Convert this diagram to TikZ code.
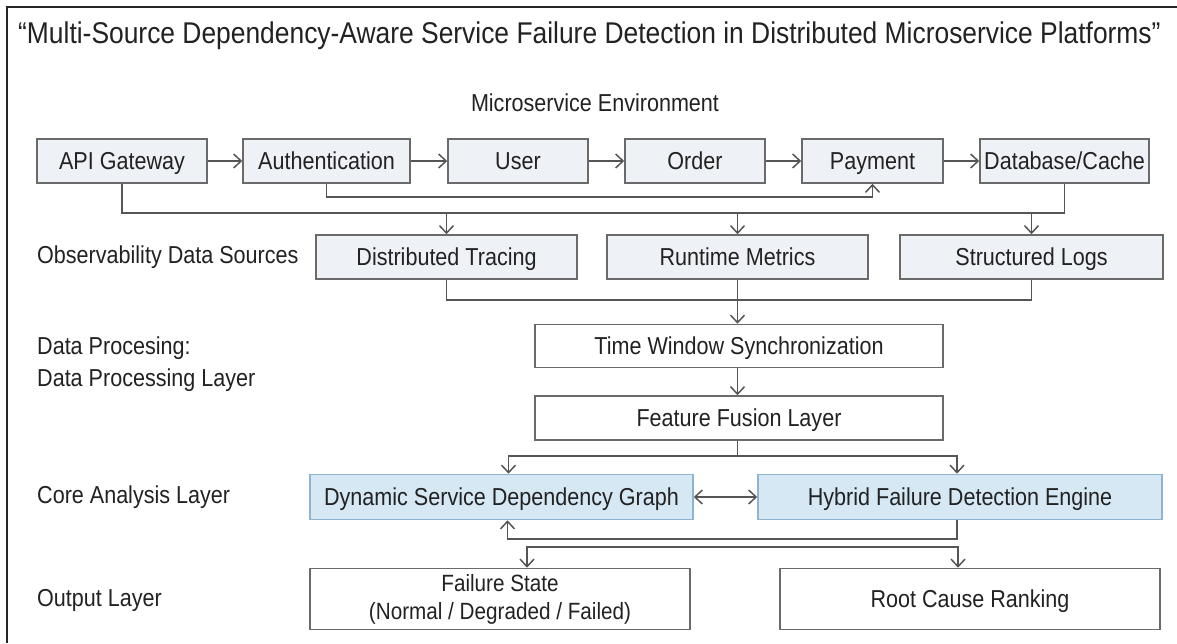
\documentclass[tikz,border=0pt]{standalone}
\usepackage{fontspec}
\setmainfont[FakeStretch=0.88]{Liberation Sans}
\usetikzlibrary{arrows.meta}
\definecolor{linec}{HTML}{555555}
\definecolor{boxline}{HTML}{6A6A6A}
\definecolor{grayfill}{HTML}{EEF1F5}
\definecolor{bluefill}{HTML}{D5E8F4}
\definecolor{blueline}{HTML}{8DB3CF}
\definecolor{textc}{HTML}{222222}
\begin{document}
\begin{tikzpicture}[x=1pt,y=-1pt,
 box/.style={draw=boxline, line width=1.6pt, minimum height=44pt, inner sep=0pt, font=\fontsize{24.5}{28}\selectfont, text=textc, anchor=center, align=center},
 oneline/.style={text height=18pt, text depth=1pt},
 svc/.style={box, oneline, fill=grayfill},
 wbox/.style={box, fill=white},
 bbox/.style={box, oneline, fill=bluefill, draw=blueline},
 lbl/.style={font=\fontsize{24.5}{28}\selectfont, text=textc, anchor=west, inner sep=0pt},
 conn/.style={draw=linec, line width=1.6pt},
 tip/.tip={Straight Barb[length=7.5pt,width=14pt,line width=1.5pt]},
 arr/.style={conn, -tip},
]
\useasboundingbox (0,0) rectangle (1177,643);
\fill[white] (0,0) rectangle (1177,643);
\draw[line width=1.5pt, black!85] (7,643) -- (7,7) -- (1177,7);

\node[anchor=west, inner sep=0pt, font=\fontsize{30}{33}\selectfont, text=textc] (title) at (18,36) {“Multi-Source Dependency-Aware Service Failure Detection in Distributed Microservice Platforms”};
\node[lbl, anchor=center] (env) at (595,103) {Microservice Environment};

% row 1
\node[svc, minimum width=170pt] (api) at (122,161) {API Gateway};
\node[svc, minimum width=167pt] (auth) at (326.5,161) {Authentication};
\node[svc, minimum width=140pt] (user) at (518,161) {User};
\node[svc, minimum width=140pt] (order) at (695,161) {Order};
\node[svc, minimum width=141pt] (pay) at (872.5,161) {Payment};
\node[svc, minimum width=169pt] (db) at (1064.5,161) {Database/Cache};
\draw[arr] (api) -- (auth);
\draw[arr] (auth) -- (user);
\draw[arr] (user) -- (order);
\draw[arr] (order) -- (pay);
\draw[arr] (pay) -- (db);

\coordinate (busA) at (0,197);
\coordinate (busB) at (0,213);
\draw[arr] (auth.south) |- (pay.south |- busA) -- (pay.south);

% row 2
\node[lbl] (obs) at (37,257) {Observability Data Sources};
\node[svc, minimum width=261pt] (dt) at (446.5,257) {Distributed Tracing};
\node[svc, minimum width=261pt] (rm) at (737.5,257) {Runtime Metrics};
\node[svc, minimum width=263pt] (sl) at (1031.5,257) {Structured Logs};
\draw[conn] (api.south) |- (db.south |- busB) -- (db.south);
\draw[arr] (dt.north |- busB) -- (dt.north);
\draw[arr] (rm.north |- busB) -- (rm.north);
\draw[arr] (sl.north |- busB) -- (sl.north);

\coordinate (busC) at (0,300);
\draw[conn] (dt.south) |- (sl.south |- busC) -- (sl.south);

% processing
\node[lbl] (dp1) at (37,348) {Data Procesing:};
\node[lbl] (dp2) at (37,380) {Data Processing Layer};
\node[wbox, oneline, minimum width=408pt, minimum height=43pt] (tws) at (739,346) {Time Window Synchronization};
\node[wbox, oneline, minimum width=408pt] (ff) at (739,418) {Feature Fusion Layer};
\draw[arr] (rm.south) -- (rm.south |- tws.north);
\draw[arr] (rm.south |- tws.south) -- (rm.south |- ff.north);

% core
\node[lbl] (core) at (37,497) {Core Analysis Layer};
\node[bbox, minimum width=383pt, minimum height=45pt] (dsdg) at (501.5,497) {Dynamic Service Dependency Graph};
\node[bbox, minimum width=404pt, minimum height=45pt] (hyb) at (960,497) {Hybrid Failure Detection Engine};
\coordinate (br) at (0,456);
\draw[arr] (rm.south |- ff.south) |- ([xshift=7pt]dsdg.north |- br) -- ([xshift=7pt]dsdg.north);
\draw[arr] (rm.south |- ff.south) |- ([xshift=-3pt]hyb.north |- br) -- ([xshift=-3pt]hyb.north);
\draw[conn, tip-tip] (dsdg) -- (hyb);

% output
\node[lbl] (out) at (37,600) {Output Layer};
\node[wbox, minimum width=380pt, minimum height=61pt, font=\fontsize{23.5}{28}\selectfont] (fs) at (500,599) {Failure State\\(Normal / Degraded / Failed)};
\node[wbox, oneline, minimum width=380pt, minimum height=61pt] (rc) at (970,599) {Root Cause Ranking};
\coordinate (oA) at (0,539);
\coordinate (oB) at (0,547);
\draw[arr] ([xshift=-3pt]hyb.south) |- ([xshift=6pt]dsdg.south |- oA) -- ([xshift=6pt]dsdg.south);
\draw[conn, tip-tip] ([xshift=27pt]fs.north) |- ([xshift=-12pt]rc.north |- oB) -- ([xshift=-12pt]rc.north);
\end{tikzpicture}
\end{document}
